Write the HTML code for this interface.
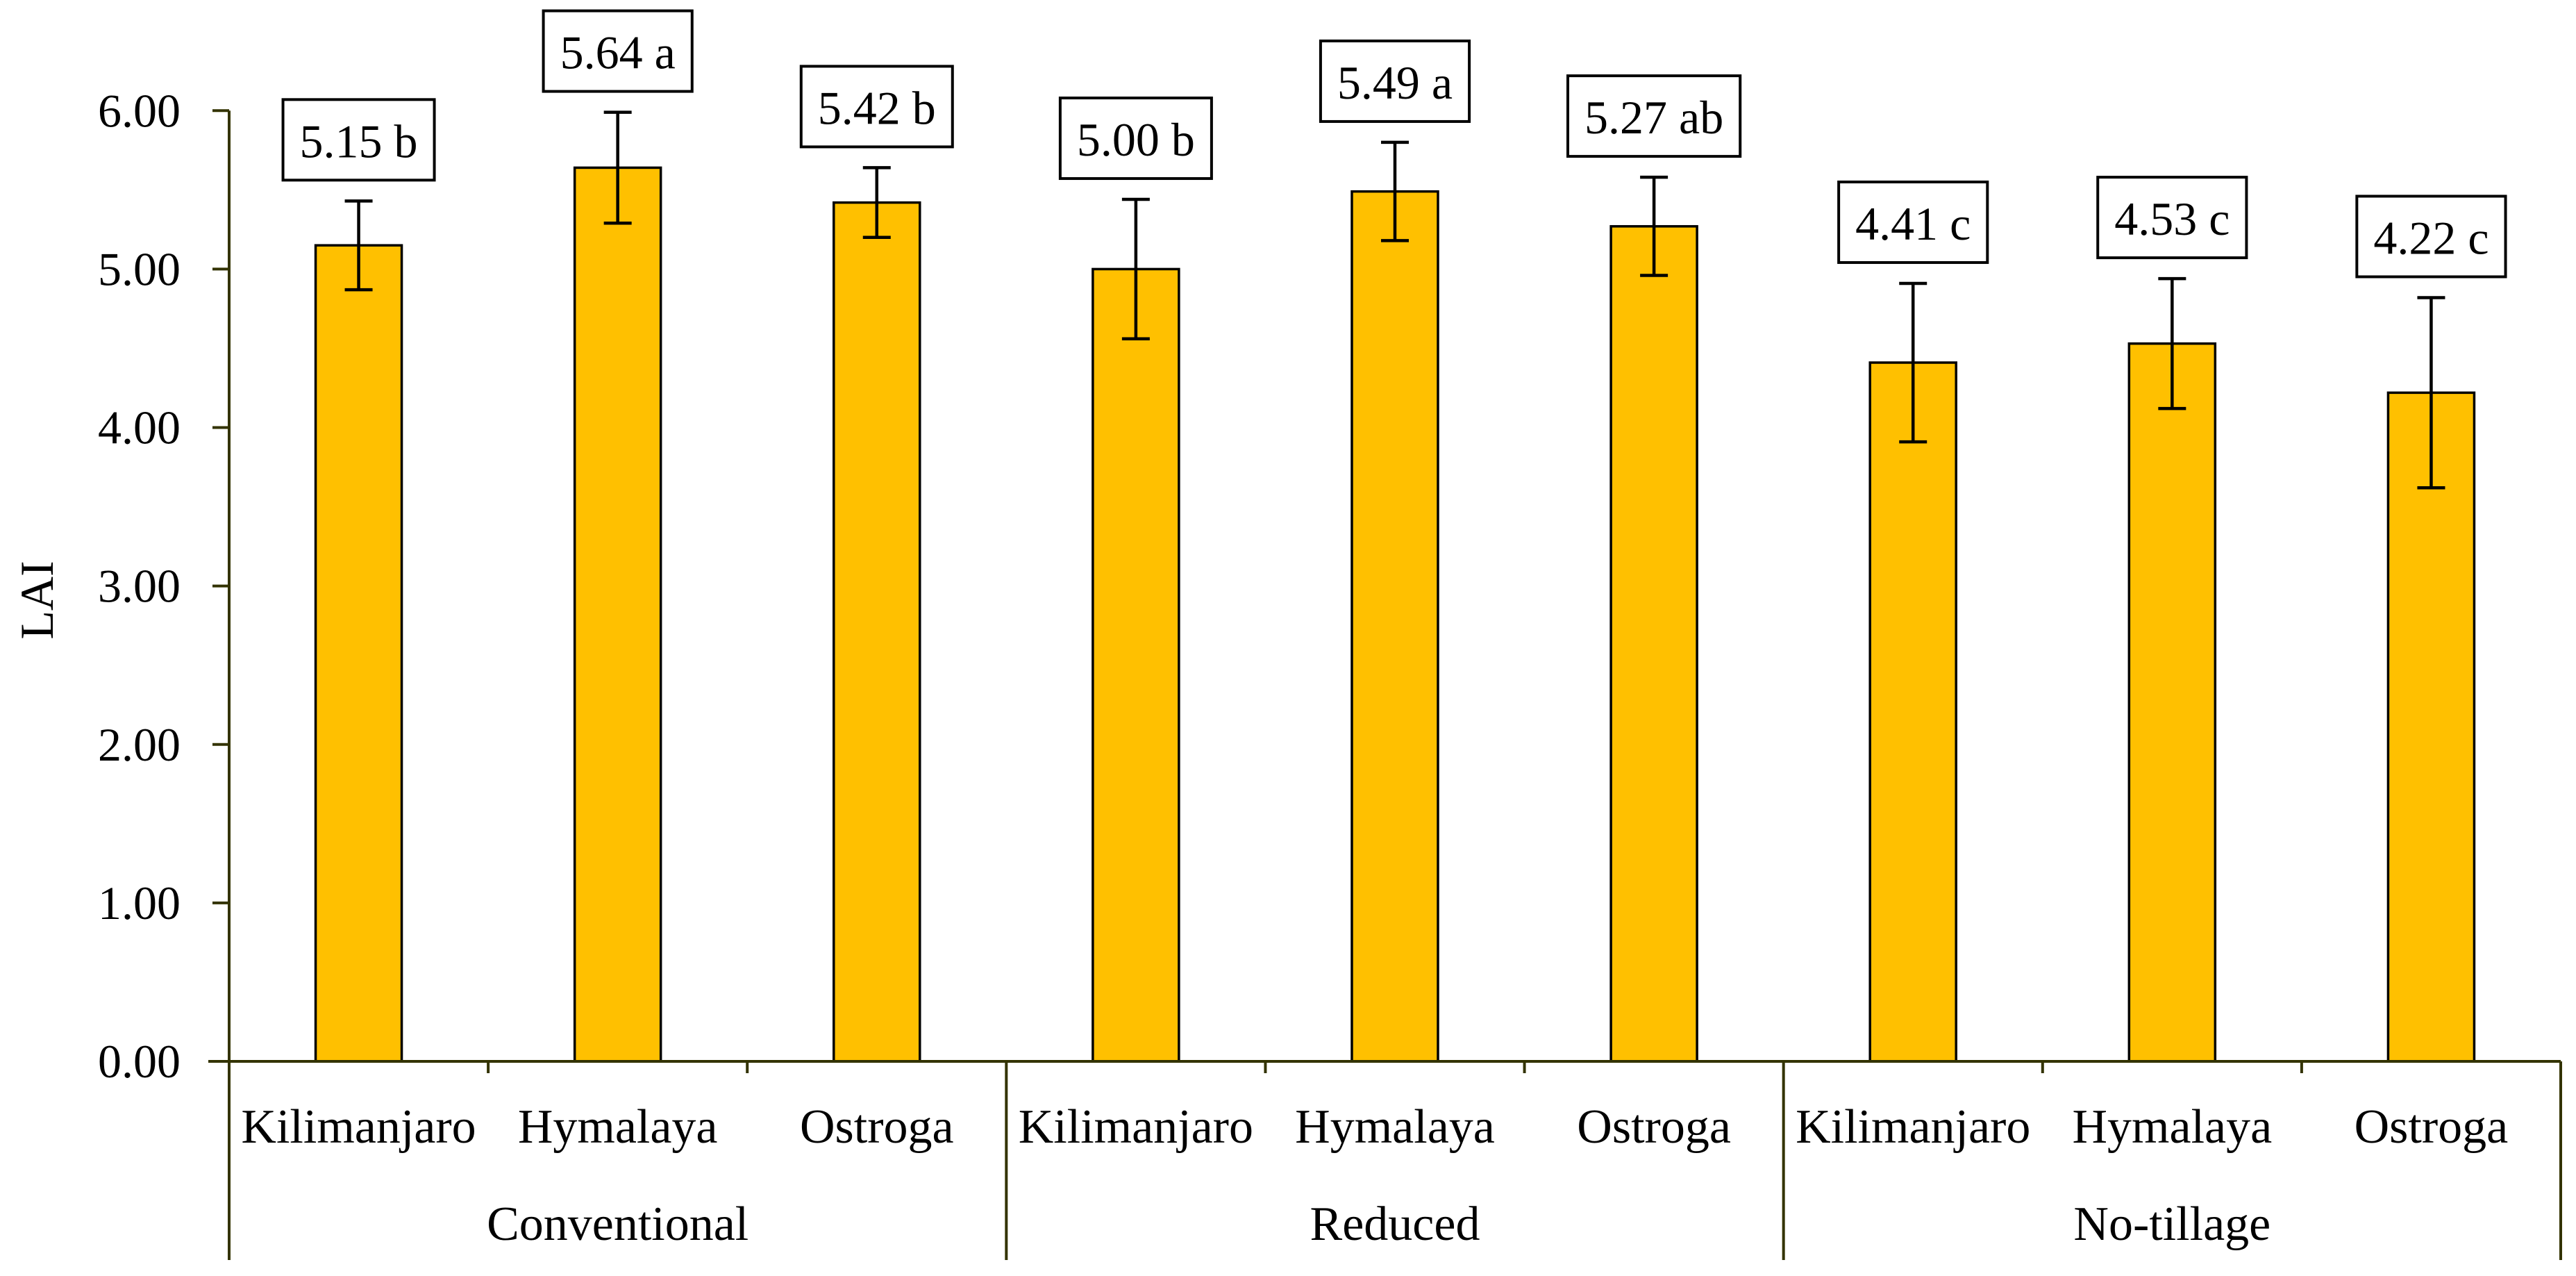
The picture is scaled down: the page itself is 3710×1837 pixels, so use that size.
<!DOCTYPE html>
<html><head><meta charset="utf-8"><style>
html,body{margin:0;padding:0;background:#fff;}
svg{display:block;}
text{font-family:"Liberation Serif",serif;fill:#000;}
</style></head><body>
<svg id="chart" width="3710" height="1837" viewBox="0 0 3710 1837" xmlns="http://www.w3.org/2000/svg">
<g id="grid"></g>
</svg>
<script>
const categories = ["Kilimanjaro","Hymalaya","Ostroga","Kilimanjaro","Hymalaya","Ostroga","Kilimanjaro","Hymalaya","Ostroga"];
const groups = ["Conventional","Reduced","No-tillage"];
const values = [5.15,5.64,5.42,5.00,5.49,5.27,4.41,4.53,4.22];
const errors = [0.28,0.35,0.22,0.44,0.31,0.31,0.50,0.41,0.60];
const letters = ["b","a","b","b","a","ab","c","c","c"];
const yTicks = [0,1,2,3,4,5,6];

const NS="http://www.w3.org/2000/svg";
const svg=document.getElementById('chart');
const X0=330, X1=3688, Y0=1528, Y6=159.3, YMAX=6;
const step=(X1-X0)/categories.length;
const barW=124;
const AX="#333300";
function y(v){return Y0-(v/YMAX)*(Y0-Y6);}
function xc(i){return X0+step*(i+0.5);}
function mk(tag,attrs,parent){const e=document.createElementNS(NS,tag);for(const k in attrs)e.setAttribute(k,attrs[k]);(parent||svg).appendChild(e);return e;}

// y axis
let ax=mk('line',{x1:X0,y1:Y6,x2:X0,y2:1814,stroke:AX,'stroke-width':4});


yTicks.forEach(t=>{
  const tk=mk('line',{x1:X0-24,y1:y(t),x2:X0,y2:y(t),stroke:AX,'stroke-width':4});
  
  
  const lb=mk('text',{x:260,y:y(t)+23,'text-anchor':'end','font-size':68});
  lb.textContent=t.toFixed(2);
  
  
});
const yt=mk('text',{x:0,y:0,'text-anchor':'middle','font-size':68,transform:'translate(76,864) rotate(-90)'});
yt.textContent='LAI';



// bars
values.forEach((v,i)=>{
  const cx=xc(i);
  const b=mk('rect',{x:cx-barW/2,y:y(v),width:barW,height:Y0-y(v),fill:'#FFC000',stroke:'#000','stroke-width':3.5});
  
  
  const top=y(v+errors[i]), bot=y(v-errors[i]);
  const eg=mk('g',{stroke:'#000','stroke-width':4.5});
  
  
  mk('line',{x1:cx,y1:top,x2:cx,y2:bot},eg);
  mk('line',{x1:cx-20,y1:top,x2:cx+20,y2:top},eg);
  mk('line',{x1:cx-20,y1:bot,x2:cx+20,y2:bot},eg);
  // label box
  const boxB=top-30, boxT=boxB-116;
  const lg=mk('g',{});
  
  
  const rect=mk('rect',{fill:'#fff',stroke:'#000','stroke-width':4},lg);
  const tx=mk('text',{x:cx,y:boxB-33,'text-anchor':'middle','font-size':68},lg);
  tx.textContent=v.toFixed(2)+' '+letters[i];
  const w=tx.getComputedTextLength()+48;
  rect.setAttribute('x',cx-w/2);rect.setAttribute('y',boxT);
  rect.setAttribute('width',w);rect.setAttribute('height',116);
});

// x axis
const xa=mk('line',{x1:X0-30,y1:Y0,x2:X1,y2:Y0,stroke:AX,'stroke-width':4});


for(let i=0;i<=categories.length;i++){
  const x=X0+step*i;
  const full=(i%3===0);
  const t=mk('line',{x1:x,y1:Y0,x2:x,y2:full?1814:1545,stroke:AX,'stroke-width':4});
  
  
}
categories.forEach((c,i)=>{
  const t=mk('text',{x:xc(i),y:1645,'text-anchor':'middle','font-size':70});
  t.textContent=c;
  
  
});
groups.forEach((g,j)=>{
  const t=mk('text',{x:X0+step*(3*j+1.5),y:1785,'text-anchor':'middle','font-size':70});
  t.textContent=g;
  
  
});
</script>
</body></html>
